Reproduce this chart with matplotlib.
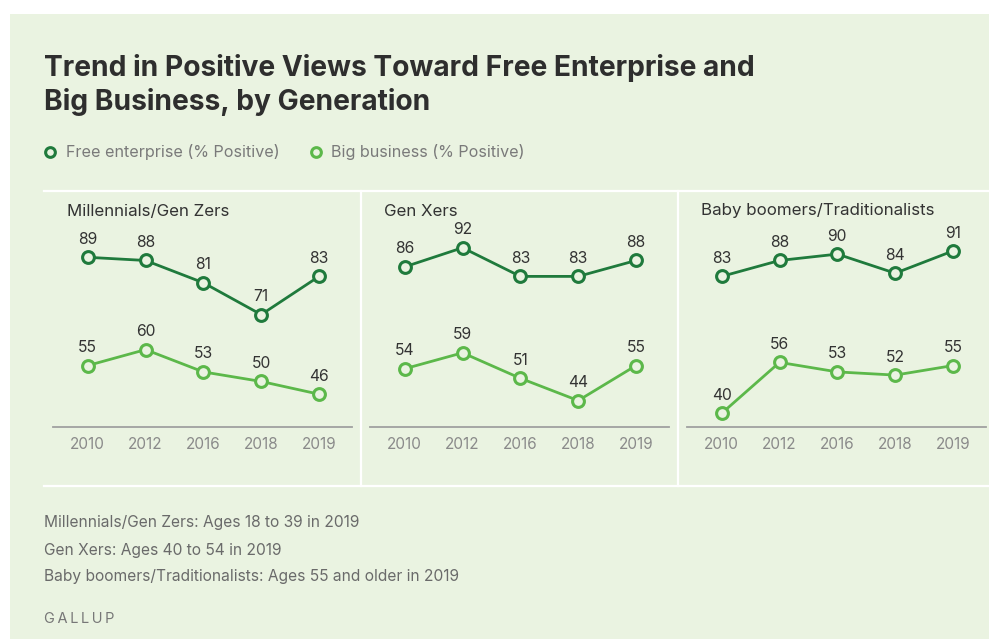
import matplotlib
matplotlib.use("Agg")
import matplotlib.pyplot as plt
from matplotlib.patches import Rectangle
from matplotlib.lines import Line2D

W, H = 989, 639
BG = "#eaf3e1"
DARK = "#1f7a3c"
LIGHT = "#5cb84a"

years = ["2010", "2012", "2016", "2018", "2019"]
groups = ["Millennials/Gen Zers", "Gen Xers", "Baby boomers/Traditionalists"]
free_enterprise = [
    [89, 88, 81, 71, 83],
    [86, 92, 83, 83, 88],
    [83, 88, 90, 84, 91],
]
big_business = [
    [55, 60, 53, 50, 46],
    [54, 59, 51, 44, 55],
    [40, 56, 53, 52, 55],
]
notes = [
    "Millennials/Gen Zers: Ages 18 to 39 in 2019",
    "Gen Xers: Ages 40 to 54 in 2019",
    "Baby boomers/Traditionalists: Ages 55 and older in 2019",
]

plt.rcParams["font.family"] = ["Inter", "DejaVu Sans"]


def box(x0, y0, x1, y1):
    # pixel box (top-left origin) -> figure fraction rect
    return [x0 / W, 1 - y1 / H, (x1 - x0) / W, (y1 - y0) / H]


def fx(x):
    return x / W


def fy(y):
    return 1 - y / H


fig = plt.figure(figsize=(W / 100, H / 100), dpi=100, facecolor="white")
fig.patches.append(Rectangle((fx(10), 0), 1 - fx(10), fy(14), transform=fig.transFigure,
                             facecolor=BG, edgecolor="none", zorder=-5))

# title + legend
fig.text(fx(44), fy(76), "Trend in Positive Views Toward Free Enterprise and",
         fontsize=20.3, fontweight="bold", color="#2e2e2e", va="baseline")
fig.text(fx(44), fy(110), "Big Business, by Generation",
         fontsize=20.3, fontweight="bold", color="#2e2e2e", va="baseline")

for mx, tx, col, lab in [(50, 66, DARK, "Free enterprise (% Positive)"),
                         (316, 331, LIGHT, "Big business (% Positive)")]:
    fig.add_artist(Line2D([fx(mx)], [fy(152)], marker="o", markersize=7, markerfacecolor=BG,
                          markeredgecolor=col, markeredgewidth=2.2, transform=fig.transFigure))
    fig.text(fx(tx), fy(152), lab, fontsize=11.6, color="#7a7a7a", va="center")

# white grid of the small-multiple frame
for y in (191, 486):
    fig.add_artist(Line2D([fx(44), 1], [fy(y), fy(y)], color="white", lw=1.6,
                          transform=fig.transFigure))
for x in (361, 678):
    fig.add_artist(Line2D([fx(x), fx(x)], [fy(191), fy(486)], color="white", lw=1.6,
                          transform=fig.transFigure))

panel_x = [(53, 352), (370, 669), (687, 986)]
for k, (x0, x1) in enumerate(panel_x):
    ax = fig.add_axes(box(x0, 235, x1, 427))
    ax.set_facecolor("none")
    pos = list(range(len(years)))
    for vals, col in [(free_enterprise[k], DARK), (big_business[k], LIGHT)]:
        ax.plot(pos, vals, color=col, lw=2.0, marker="o", markersize=8.5,
                markerfacecolor=BG, markeredgecolor=col, markeredgewidth=2.2, zorder=3,
                clip_on=False)
        for i, v in enumerate(vals):
            ax.annotate(str(v), (i, v), xytext=(0, 7.5), textcoords="offset points",
                        ha="center", va="bottom", fontsize=11.3, color="#333333")
    ax.set_xlim(-0.6, 4.57)
    ax.set_ylim(35.7, 96)
    ax.set_xticks(pos)
    ax.set_xticklabels(years, fontsize=11, color="#8a8a8a")
    ax.tick_params(axis="x", length=0, pad=7)
    ax.set_yticks([])
    for s in ("top", "left", "right"):
        ax.spines[s].set_visible(False)
    ax.spines["bottom"].set_color("#a0a0a0")
    ax.spines["bottom"].set_linewidth(1.3)
    ax.spines["bottom"].set_zorder(1)
    fig.text(fx(x0 + 14), fy(211), groups[k], fontsize=12.2, color="#333333", va="center")

for n, y in zip(notes, (523, 550, 577)):
    fig.text(fx(44), fy(y), n, fontsize=11.2, color="#6a6a6a", va="center")
fig.text(fx(44), fy(619), "\u2009".join("GALLUP"),
         fontsize=10.5, color="#777777", va="center")

fig.savefig("out.png", dpi=100, facecolor=fig.get_facecolor())
